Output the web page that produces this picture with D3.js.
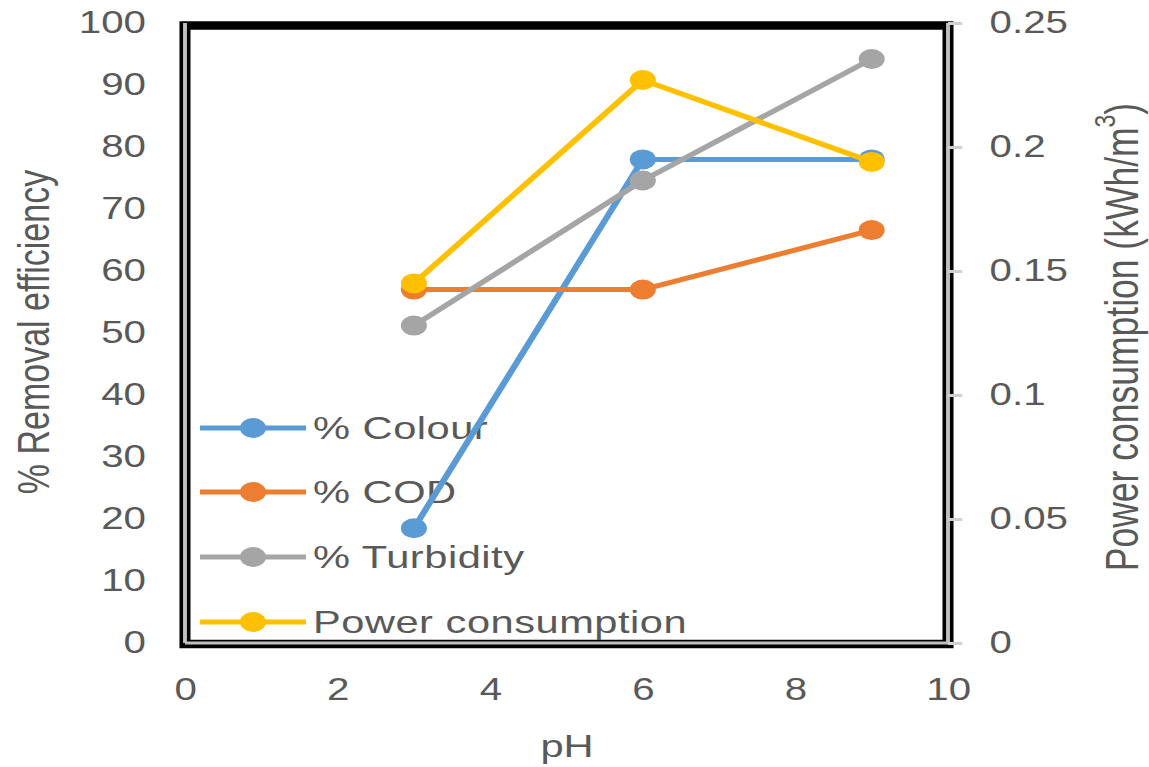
<!DOCTYPE html>
<html>
<head>
<meta charset="utf-8">
<script src="https://cdn.jsdelivr.net/npm/d3@7"></script>
<style>
  html, body { margin: 0; padding: 0; background: #ffffff; }
  svg { display: block; }
  text { font-family: "Liberation Sans", Arial, sans-serif; fill: #595959; }
</style>
</head>
<body>
<svg id="chart" width="1149" height="767"></svg>
<script>
// pH values and measured responses
const phValues = [3, 6, 9];
const colourRemoval = [18.5, 78, 78];
const codRemoval = [57, 57, 66.6];
const turbidityRemoval = [51.2, 74.6, 94.2];
const powerConsumption = [0.145, 0.227, 0.194];

const seriesNames = ["% Colour", "% COD", "% Turbidity", "Power consumption"];
const seriesColors = ["#5B9BD5", "#ED7D31", "#A5A5A5", "#FFC000"];

// tick labels
const xTicks = [0, 2, 4, 6, 8, 10];
const leftTicks = [0, 10, 20, 30, 40, 50, 60, 70, 80, 90, 100];
const rightTicks = [0, 0.05, 0.1, 0.15, 0.2, 0.25];

// the whole drawing is widened horizontally
const SX = 1.3;

const svg = d3.select("#chart");
const g = svg.append("g").attr("transform", `scale(${SX},1)`);

const x = d3.scaleLinear().domain([0, 10]).range([185 / SX, 948 / SX]);
const yL = d3.scaleLinear().domain([0, 100]).range([643, 23]);
const yR = d3.scaleLinear().domain([0, 0.25]).range([643, 23]);

// black frame around the plot area
g.append("rect")
  .attr("x", x(0)).attr("y", 25.5)
  .attr("width", x(10) - x(0)).attr("height", 644 - 25.5)
  .attr("fill", "none").attr("stroke", "#000").attr("stroke-width", 8.5);

// left axis
const axL = g.append("g").attr("transform", `translate(${x(0)},0)`)
  .call(d3.axisLeft(yL).tickValues(leftTicks).tickSize(0).tickPadding(30).tickFormat(d3.format("d")));
// right axis
const axR = g.append("g").attr("transform", `translate(${x(10)},0)`)
  .call(d3.axisRight(yR).tickValues(rightTicks).tickSize(11).tickPadding(21)
    .tickFormat(d => d === 0 ? "0" : String(+d.toFixed(2))));
// bottom axis
const axB = g.append("g").attr("transform", `translate(0,${yL(0)})`)
  .call(d3.axisBottom(x).tickValues(xTicks).tickSize(0).tickPadding(35).tickFormat(d3.format("d")));

[axL, axR, axB].forEach(ax => {
  ax.selectAll(".domain").attr("stroke", "#BFBFBF").attr("stroke-width", 3);
  ax.selectAll(".tick line").attr("stroke", "#D0D0D0").attr("stroke-width", 3);
  ax.selectAll("text").attr("font-size", 31).attr("fill", "#595959")
    .style("font-family", "'Liberation Sans', Arial, sans-serif");
});
axL.select(".domain").attr("d", `M0,${yL(100)}V${yL(0)}`);
axR.select(".domain").attr("d", `M0,${yR(0.25)}V${yR(0)}`);
axB.select(".domain").attr("d", `M${x(0)},0H${x(10)}`);

// axis titles
g.append("text")
  .attr("transform", `translate(${33 / SX},332) rotate(-90)`)
  .attr("text-anchor", "middle").attr("dominant-baseline", "central")
  .attr("font-size", 34).text("% Removal efficiency");

const rt = g.append("text")
  .attr("transform", `translate(${1122 / SX},337) rotate(-90)`)
  .attr("text-anchor", "middle").attr("dominant-baseline", "central")
  .attr("font-size", 35.5);
rt.append("tspan").text("Power consumption (kWh/m");
rt.append("tspan").attr("baseline-shift", "super").attr("font-size", 23).text("3");
rt.append("tspan").text(")");

g.append("text")
  .attr("x", 567 / SX).attr("y", 746)
  .attr("text-anchor", "middle").attr("dominant-baseline", "central")
  .attr("font-size", 32).text("pH");

// legend (drawn beneath the data lines)
const legendRows = [428, 492, 557, 622];
const legend = g.append("g");
seriesNames.forEach((name, i) => {
  const row = legend.append("g").attr("transform", `translate(0,${legendRows[i]})`);
  row.append("line").attr("x1", 200 / SX).attr("x2", 306 / SX)
    .attr("stroke", seriesColors[i]).attr("stroke-width", 5);
  row.append("circle").attr("cx", 253 / SX).attr("r", 10).attr("fill", seriesColors[i]);
  row.append("text").attr("x", 313 / SX).attr("dominant-baseline", "central")
    .attr("font-size", 32).attr("letter-spacing", 0.4).text(name);
});

// data series
const series = [
  { values: colourRemoval, y: yL },
  { values: codRemoval, y: yL },
  { values: turbidityRemoval, y: yL },
  { values: powerConsumption, y: yR }
];
series.forEach((s, i) => {
  const pts = phValues.map((p, j) => [p, s.values[j]]);
  const line = d3.line().x(d => x(d[0])).y(d => s.y(d[1]));
  g.append("path").datum(pts).attr("d", line)
    .attr("fill", "none").attr("stroke", seriesColors[i]).attr("stroke-width", 5)
    .attr("stroke-linejoin", "round");
  g.selectAll(null).data(pts).enter().append("circle")
    .attr("cx", d => x(d[0])).attr("cy", d => s.y(d[1])).attr("r", 10)
    .attr("fill", seriesColors[i]);
});
</script>
</body>
</html>
